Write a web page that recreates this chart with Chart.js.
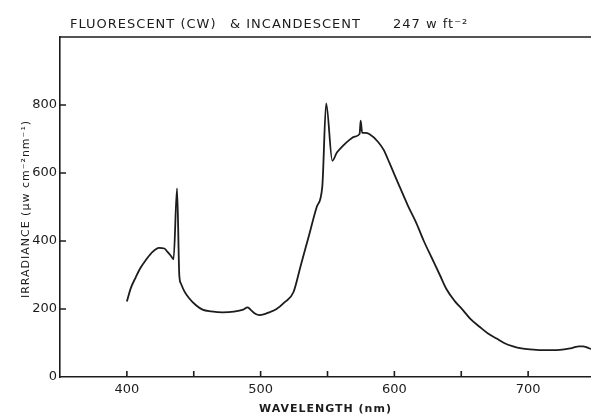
<!DOCTYPE html>
<html>
<head>
<meta charset="utf-8">
<script src="https://cdn.jsdelivr.net/npm/chart.js@4/dist/chart.umd.min.js"></script>
<style>
  html, body { margin: 0; padding: 0; background: #fff; }
  #wrap { width: 591px; height: 414px; position: relative; }
</style>
</head>
<body>
<div id="wrap"><canvas id="spectrum"></canvas></div>
<script>
// spectrum: wavelength (nm) vs irradiance (uW cm^-2 nm^-1)
const wavelengths = [
  400, 403, 406.7, 410, 414.2, 419.2, 424, 428, 430.4, 433, 434.9, 437.5, 439.2, 440.4,
  443, 446.7, 451.7, 456.6, 463, 471.6, 480, 487, 490.3, 493, 496, 499.1, 503, 507,
  511.6, 518, 524.6, 530, 536, 542, 546.1, 549, 553.6, 557, 561.5, 566, 570.3,
  574, 574.8, 575.9, 578, 581.5, 587.7, 592, 596.5, 604, 610, 616.5, 622, 628, 634,
  639, 645, 651.4, 657, 663.9, 670, 676.4, 682, 688.8, 695, 701.3, 710, 721.3, 727,
  731.3, 735, 738, 741, 744, 747
];
const irradiance = [
  222, 262, 294, 320, 344, 368, 380, 378, 368, 356, 346, 555, 299, 275,
  252, 231, 211, 198, 193, 190, 192, 198, 205, 196, 186, 182, 185, 191,
  199, 220, 250, 328, 414, 501, 560, 805, 636, 660, 680, 696, 707,
  715, 754, 718, 718, 714, 692, 668, 628, 559, 505, 452, 400, 350, 300,
  258, 224, 196, 170, 147, 128, 113, 100, 90, 84, 81, 79, 79, 81,
  84, 88, 90, 90, 87, 82
];
const xTickLabels = [400, 500, 600, 700];
const xMinorTicks = [400, 450, 500, 550, 600, 650, 700];
const yTickLabels = [0, 200, 400, 600, 800];
const yMinorTicks = [200, 400, 600, 800];

const titleParts = ['FLUORESCENT (CW)', '& INCANDESCENT', '247 w ft\u207B\u00B2'];
const yTitle = 'IRRADIANCE (\u03BCw cm\u207B\u00B2nm\u207B\u00B9)';
const xTitle = 'WAVELENGTH (nm)';

const INK = '#1c1c1c';
const FONT = '"DejaVu Sans", sans-serif';

// inward tick marks, top frame line, titles
const framePlugin = {
  id: 'frame',
  afterDraw(chart) {
    const { ctx, chartArea: a, scales } = chart;
    ctx.save();
    ctx.strokeStyle = INK;
    ctx.lineWidth = 1.6;
    ctx.beginPath();
    ctx.moveTo(a.left, a.top);
    ctx.lineTo(a.right, a.top);
    for (const v of xMinorTicks) {
      const px = scales.x.getPixelForValue(v);
      ctx.moveTo(px, a.bottom);
      ctx.lineTo(px, a.bottom - 6);
    }
    for (const v of yMinorTicks) {
      const py = scales.y.getPixelForValue(v);
      ctx.moveTo(a.left, py);
      ctx.lineTo(a.left + 6, py);
    }
    ctx.stroke();

    ctx.fillStyle = INK;
    ctx.textBaseline = 'alphabetic';
    ctx.letterSpacing = '1px';
    ctx.font = '13px ' + FONT;
    ctx.textAlign = 'left';
    ctx.fillText(titleParts[0], 70, 28);
    ctx.fillText(titleParts[1], 230, 28);
    ctx.fillText(titleParts[2], 393, 28);

    ctx.font = 'bold 11px ' + FONT;
    ctx.textAlign = 'center';
    ctx.fillText(xTitle, (a.left + a.right) / 2, 412);

    ctx.translate(29, (a.top + a.bottom) / 2 + 2);
    ctx.rotate(-Math.PI / 2);
    ctx.font = '11px ' + FONT;
    ctx.fillText(yTitle, 0, 0);
    ctx.restore();
  }
};

new Chart(document.getElementById('spectrum'), {
  type: 'line',
  data: {
    datasets: [{
      data: wavelengths.map((w, i) => ({ x: w, y: irradiance[i] })),
      borderColor: INK,
      borderWidth: 1.8,
      pointRadius: 0,
      cubicInterpolationMode: 'monotone',
      fill: false,
    }],
  },
  options: {
    responsive: true,
    maintainAspectRatio: false,
    animation: false,
    layout: { padding: { top: 37, right: 0, left: 0, bottom: 0 } },
    plugins: {
      legend: { display: false },
      tooltip: { enabled: false },
    },
    scales: {
      x: {
        type: 'linear',
        min: 350,
        max: 747,
        afterFit: s => { s.height = 37; },
        afterBuildTicks: s => { s.ticks = xTickLabels.map(v => ({ value: v })); },
        grid: { display: false, drawTicks: false },
        border: { display: true, color: INK, width: 1.6 },
        ticks: {
          color: INK, padding: 5, maxRotation: 0,
          font: { family: FONT, size: 13 },
        },
      },
      y: {
        min: 0,
        max: 1000,
        afterFit: s => { s.width = 60; },
        afterBuildTicks: s => { s.ticks = yTickLabels.map(v => ({ value: v })); },
        grid: { display: false, drawTicks: false },
        border: { display: true, color: INK, width: 1.6 },
        ticks: {
          color: INK, padding: 3,
          font: { family: FONT, size: 13 },
        },
      },
    },
  },
  plugins: [framePlugin],
});
</script>
</body>
</html>
